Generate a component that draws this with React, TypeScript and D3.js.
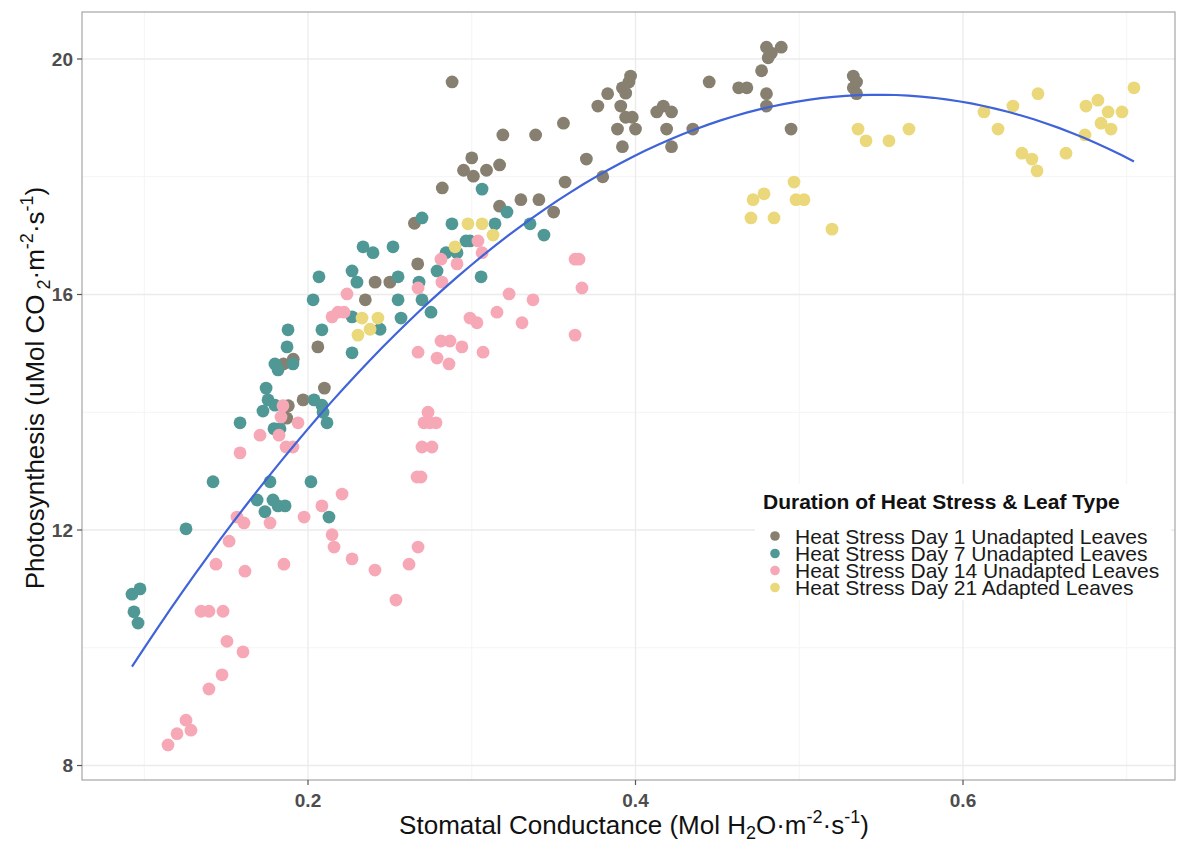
import React from 'react';
import * as d3 from 'd3';

const W = 1177;
const H = 842;
const PL = 82, PR = 1175, PT = 12, PB = 780;

const xTicks = [0.2, 0.4, 0.6];
const yTicks = [8, 12, 16, 20];
const xMinor = [0.1, 0.3, 0.5, 0.7];
const yMinor = [10, 14, 18];

const seriesNames = [
  'Heat Stress Day 1 Unadapted Leaves',
  'Heat Stress Day 7 Unadapted Leaves',
  'Heat Stress Day 14 Unadapted Leaves',
  'Heat Stress Day 21 Adapted Leaves',
];
const seriesColors = ['#878070', '#4f9895', '#f7a8b7', '#ead87a'];

const day1X = [0.288, 0.319, 0.339, 0.356, 0.300, 0.295, 0.301, 0.309, 0.317, 0.282, 0.265, 0.267, 0.317, 0.330, 0.341, 0.350, 0.357, 0.370, 0.380, 0.377, 0.383, 0.391, 0.392, 0.394, 0.396, 0.397, 0.389, 0.394, 0.398, 0.400, 0.392, 0.413, 0.417, 0.422, 0.419, 0.422, 0.435, 0.445, 0.463, 0.468, 0.480, 0.483, 0.489, 0.481, 0.477, 0.480, 0.480, 0.495, 0.533, 0.535, 0.533, 0.535, 0.241, 0.250, 0.235, 0.206, 0.191, 0.185, 0.210, 0.197, 0.188, 0.187];
const day1Y = [19.61, 18.71, 18.71, 18.91, 18.32, 18.11, 18.01, 18.11, 18.20, 17.81, 17.21, 16.52, 17.50, 17.61, 17.61, 17.40, 17.91, 18.30, 18.00, 19.20, 19.41, 19.20, 19.51, 19.42, 19.61, 19.71, 18.81, 19.01, 19.01, 18.81, 18.51, 19.10, 19.20, 19.10, 18.81, 18.51, 18.81, 19.61, 19.51, 19.51, 20.20, 20.10, 20.20, 20.02, 19.80, 19.41, 19.20, 18.81, 19.71, 19.61, 19.51, 19.41, 16.21, 16.21, 15.91, 15.11, 14.90, 14.82, 14.41, 14.21, 14.11, 13.90];

const day7X = [0.0925, 0.0974, 0.0937, 0.0962, 0.1255, 0.142, 0.1585, 0.1725, 0.1756, 0.1744, 0.1798, 0.1792, 0.1829, 0.1768, 0.1689, 0.1786, 0.1817, 0.186, 0.1737, 0.2018, 0.2037, 0.2085, 0.2092, 0.2116, 0.2128, 0.2336, 0.2397, 0.2269, 0.2067, 0.2299, 0.2031, 0.2269, 0.1878, 0.2085, 0.1872, 0.2269, 0.1798, 0.1817, 0.1908, 0.3063, 0.2696, 0.2879, 0.3142, 0.3215, 0.3356, 0.3441, 0.2965, 0.2989, 0.2843, 0.291, 0.2788, 0.3057, 0.2678, 0.2696, 0.2751, 0.2519, 0.255, 0.255, 0.2568, 0.244];
const day7Y = [10.91, 11.0, 10.61, 10.42, 12.02, 12.82, 13.82, 14.02, 14.21, 14.41, 14.12, 13.72, 13.72, 12.82, 12.51, 12.51, 12.41, 12.41, 12.31, 12.82, 14.21, 14.12, 14.0, 13.82, 12.22, 16.81, 16.71, 16.4, 16.3, 16.21, 15.91, 15.62, 15.4, 15.4, 15.11, 15.01, 14.82, 14.72, 14.82, 17.79, 17.3, 17.2, 17.2, 17.4, 17.2, 17.01, 16.91, 16.91, 16.71, 16.71, 16.4, 16.3, 16.21, 15.91, 15.7, 16.81, 16.3, 15.91, 15.6, 15.41];

const day14X = [0.1145, 0.12, 0.1255, 0.1285, 0.1395, 0.1475, 0.1505, 0.1603, 0.1347, 0.1395, 0.1481, 0.1438, 0.1518, 0.1615, 0.1566, 0.1609, 0.1768, 0.1853, 0.1976, 0.2085, 0.2208, 0.2147, 0.2159, 0.2269, 0.2409, 0.2537, 0.2617, 0.2672, 0.1585, 0.1707, 0.1823, 0.1866, 0.1908, 0.1847, 0.1835, 0.1939, 0.2238, 0.2147, 0.2183, 0.222, 0.2672, 0.2818, 0.2812, 0.291, 0.3038, 0.3063, 0.2672, 0.2788, 0.2861, 0.2812, 0.2867, 0.294, 0.3069, 0.2989, 0.3032, 0.3154, 0.3228, 0.3307, 0.3374, 0.3631, 0.3655, 0.3673, 0.3631, 0.2733, 0.2708, 0.2745, 0.2782, 0.2696, 0.2757, 0.2666, 0.269];
const day14Y = [8.35, 8.54, 8.77, 8.6, 9.3, 9.54, 10.11, 9.93, 10.62, 10.62, 10.62, 11.42, 11.81, 11.3, 12.22, 12.12, 12.12, 11.42, 12.22, 12.41, 12.61, 11.92, 11.71, 11.51, 11.32, 10.81, 11.42, 11.71, 13.31, 13.61, 13.61, 13.41, 13.41, 14.11, 13.92, 13.82, 16.01, 15.62, 15.7, 15.7, 16.11, 16.21, 16.6, 16.52, 16.91, 16.71, 15.02, 14.92, 14.82, 15.21, 15.21, 15.11, 15.02, 15.6, 15.52, 15.7, 16.01, 15.52, 15.91, 16.6, 16.6, 16.11, 15.31, 14.0, 13.82, 13.82, 13.82, 13.41, 13.41, 12.9, 12.9];

const day21X = [0.2977, 0.3063, 0.313, 0.2898, 0.233, 0.2427, 0.2379, 0.2305, 0.6128, 0.6214, 0.6305, 0.6458, 0.636, 0.6421, 0.6452, 0.6629, 0.6751, 0.6824, 0.6886, 0.6971, 0.7044, 0.6843, 0.6904, 0.6745, 0.5359, 0.5408, 0.5548, 0.567, 0.4718, 0.4785, 0.4968, 0.498, 0.5029, 0.4705, 0.4846, 0.52];
const day21Y = [17.2, 17.2, 17.01, 16.81, 15.6, 15.6, 15.41, 15.31, 19.1, 18.81, 19.2, 19.41, 18.4, 18.3, 18.1, 18.4, 19.2, 19.3, 19.1, 19.1, 19.51, 18.91, 18.81, 18.71, 18.81, 18.61, 18.61, 18.81, 17.61, 17.71, 17.91, 17.61, 17.61, 17.3, 17.3, 17.11];

const seriesX = [day1X, day7X, day14X, day21X];
const seriesY = [day1Y, day7Y, day14Y, day21Y];

// quadratic least-squares fit (like geom_smooth(method = "lm", formula = y ~ poly(x, 2)))
function quadFit(xs: number[], ys: number[]) {
  const n = xs.length;
  const mx = d3.mean(xs) as number;
  const s = [0, 0, 0, 0, 0];
  const t = [0, 0, 0];
  for (let i = 0; i < n; i++) {
    const u = xs[i] - mx;
    let p = 1;
    for (let k = 0; k < 5; k++) { s[k] += p; p *= u; }
    t[0] += ys[i]; t[1] += ys[i] * u; t[2] += ys[i] * u * u;
  }
  const A = [[s[0], s[1], s[2]], [s[1], s[2], s[3]], [s[2], s[3], s[4]]];
  const det3 = (m: number[][]) =>
    m[0][0] * (m[1][1] * m[2][2] - m[1][2] * m[2][1]) -
    m[0][1] * (m[1][0] * m[2][2] - m[1][2] * m[2][0]) +
    m[0][2] * (m[1][0] * m[2][1] - m[1][1] * m[2][0]);
  const D = det3(A);
  const coef = [0, 1, 2].map((c) => {
    const M = A.map((row, r) => row.map((v, j) => (j === c ? t[r] : v)));
    return det3(M) / D;
  });
  return (x: number) => coef[0] + coef[1] * (x - mx) + coef[2] * (x - mx) * (x - mx);
}

export default function App() {
  const x = d3.scaleLinear().domain([0.06198, 0.72947]).range([PL, PR]);
  const y = d3.scaleLinear().domain([7.754, 20.798]).range([PB, PT]);

  const allX = seriesX.flat();
  const allY = seriesY.flat();
  const f = quadFit(allX, allY);
  const [xmin, xmax] = d3.extent(allX) as [number, number];
  const curvePts = d3.range(0, 81).map((i) => {
    const xv = xmin + ((xmax - xmin) * i) / 80;
    return [xv, f(xv)] as [number, number];
  });
  const line = d3.line<[number, number]>().x((d) => x(d[0])).y((d) => y(d[1]));

  const font = "'Liberation Sans', Arial, Helvetica, sans-serif";
  const gridMajor = '#ebebeb';
  const gridMinor = '#f4f4f4';

  const legX = 763;
  const legRows = [536, 553.5, 570.5, 587.5];

  return (
    <svg width={W} height={H} style={{ position: 'absolute', left: 0, top: 0, background: '#fff' }} fontFamily={font}>
      <rect x={0} y={0} width={W} height={H} fill="#fff" />
      {xMinor.map((v) => (
        <line key={'xm' + v} x1={x(v)} x2={x(v)} y1={PT} y2={PB} stroke={gridMinor} strokeWidth={1} />
      ))}
      {yMinor.map((v) => (
        <line key={'ym' + v} x1={PL} x2={PR} y1={y(v)} y2={y(v)} stroke={gridMinor} strokeWidth={1} />
      ))}
      {xTicks.map((v) => (
        <line key={'xg' + v} x1={x(v)} x2={x(v)} y1={PT} y2={PB} stroke={gridMajor} strokeWidth={1.3} />
      ))}
      {yTicks.map((v) => (
        <line key={'yg' + v} x1={PL} x2={PR} y1={y(v)} y2={y(v)} stroke={gridMajor} strokeWidth={1.3} />
      ))}

      {seriesX.map((xs, si) =>
        xs.map((xv, i) => (
          <circle key={`p${si}-${i}`} cx={x(xv)} cy={y(seriesY[si][i])} r={6.4} fill={seriesColors[si]} />
        ))
      )}

      <path d={line(curvePts) || ''} fill="none" stroke="#3f63d8" strokeWidth={2.2} />

      <rect x={PL} y={PT} width={PR - PL} height={PB - PT} fill="none" stroke="#a6a6a6" strokeWidth={1.2} />

      {/* axes ticks */}
      {yTicks.map((v) => (
        <g key={'yt' + v}>
          <line x1={PL - 5} x2={PL} y1={y(v)} y2={y(v)} stroke="#555" strokeWidth={1.2} />
          <text x={PL - 9} y={y(v)} dy="0.36em" textAnchor="end" fontSize={19} fontWeight="bold" fill="#4d4d4d">
            {v}
          </text>
        </g>
      ))}
      {xTicks.map((v) => (
        <g key={'xt' + v}>
          <line x1={x(v)} x2={x(v)} y1={PB} y2={PB + 5} stroke="#555" strokeWidth={1.2} />
          <text x={x(v)} y={PB + 27} textAnchor="middle" fontSize={19} fontWeight="bold" fill="#4d4d4d">
            {d3.format('.1f')(v)}
          </text>
        </g>
      ))}

      {/* axis titles */}
      <text x={634} y={834} textAnchor="middle" fontSize={26} fill="#111">
        Stomatal Conductance (Mol H
        <tspan fontSize={18} dy={5}>2</tspan>
        <tspan dy={-5}>O·m</tspan>
        <tspan fontSize={18} dy={-11}>-2</tspan>
        <tspan dy={11}>·s</tspan>
        <tspan fontSize={18} dy={-11}>-1</tspan>
        <tspan dy={11}>)</tspan>
      </text>
      <text transform={`translate(44, 388) rotate(-90)`} textAnchor="middle" fontSize={26} fill="#111">
        Photosynthesis (uMol CO
        <tspan fontSize={18} dx={5} dy={6}>2</tspan>
        <tspan dy={-6}>·m</tspan>
        <tspan fontSize={18} dy={-11}>-2</tspan>
        <tspan dy={11}>·s</tspan>
        <tspan fontSize={18} dy={-11}>-1</tspan>
        <tspan dy={11}>)</tspan>
      </text>

      {/* legend */}
      <rect x={755} y={484} width={416} height={116} fill="#fff" />
      <text x={legX} y={509} fontSize={21} fontWeight="bold" fill="#111">
        Duration of Heat Stress &amp; Leaf Type
      </text>
      {seriesNames.map((nm, i) => (
        <g key={'lg' + i}>
          <circle cx={775} cy={legRows[i]} r={4.8} fill={seriesColors[i]} />
          <text x={795} y={legRows[i]} dy="0.36em" fontSize={21} fill="#1a1a1a">
            {nm}
          </text>
        </g>
      ))}
    </svg>
  );
}
